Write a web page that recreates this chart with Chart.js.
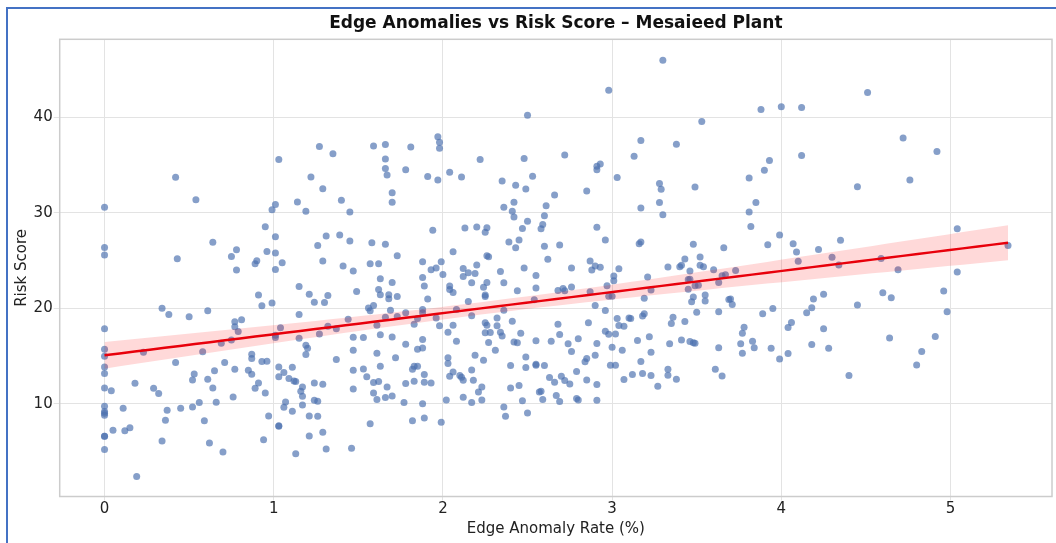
<!DOCTYPE html>
<html>
<head>
<meta charset="utf-8">
<script src="https://cdn.jsdelivr.net/npm/chart.js@4.4.1/dist/chart.umd.min.js"></script>
<style>
  html, body { margin: 0; padding: 0; background: #fff; }
  #wrap { width: 1056px; height: 543px; position: relative; }
</style>
</head>
<body>
<div id="wrap"><canvas id="chart"></canvas></div>
<script>
// Values, left to right
let anomalyRate = [
  0,0,0,0,0,0,0,0,0,0,
  0,0,0,0,0,0,0.42,0.54,0.43,0.34,
  0.38,0.50,0.23,0.58,0.42,0.53,0.52,0.18,0.04,0.29,
  0.32,0.11,0.37,0.45,0.52,0.56,0.36,0.59,0.05,0.12,
  0.15,0.34,0.19,
  0.61,0.61,0.62,0.64,0.65,0.64,0.66,0.70,0.71,0.69,
  0.75,0.78,0.78,0.77,0.77,0.81,0.79,0.75,0.77,0.76,
  0.90,0.89,0.95,0.96,0.91,0.93,0.87,0.87,0.85,0.87,
  0.91,0.89,0.95,0.93,0.96,0.97,0.94,1.03,0.99,1.01,
  1.01,1.01,1.01,1.05,0.99,1.04,1.01,1.01,1.03,1.06,
  1.03,1.11,1.09,1.12,1.13,1.17,1.16,1.17,1.07,1.06,
  1.11,1.17,1.03,1.03,1.13,1.27,1.35,1.22,1.29,1.14,
  1.19,1.40,1.45,1.26,1.31,1.39,1.45,1.29,1.41,1.47,
  1.15,1.21,1.24,1.30,1.32,1.15,1.27,1.32,1.37,1.44,
  1.15,1.19,1.20,1.19,1.37,1.47,1.47,1.47,1.47,1.24,
  1.29,1.24,1.26,1.21,1.26,1.21,1.29,1.31,1.46,
  1.49,1.53,1.59,1.66,1.81,1.97,1.98,1.98,1.66,1.66,
  1.67,1.78,1.91,1.97,2.04,2.11,2.22,2.35,2.36,1.70,
  1.70,1.94,1.58,1.66,1.73,1.57,1.62,1.88,1.99,1.93,
  1.96,2.00,2.06,2.13,2.20,2.25,2.26,2.26,2.27,2.20,
  2.12,2.15,2.19,2.12,2.34,2.36,1.63,1.70,1.62,1.63,
  1.68,1.68,1.73,1.89,1.88,2.04,2.04,2.06,1.91,2.15,
  2.24,2.25,2.25,2.26,2.17,1.56,1.57,1.59,1.69,1.73,
  1.78,1.66,1.61,1.83,1.85,1.88,1.88,1.96,1.98,2.08,
  2.17,2.06,2.03,2.08,2.25,2.26,2.25,2.28,2.27,2.32,
  2.32,2.34,2.35,2.36,2.31,2.24,2.19,2.17,1.63,1.70,
  1.78,1.88,1.88,1.85,1.61,1.72,1.63,1.53,1.55,1.59,
  1.62,1.67,1.59,1.61,1.66,1.70,1.77,1.82,1.83,1.85,
  1.78,1.83,1.89,1.89,1.93,1.88,2.03,2.03,2.06,2.04,
  2.10,2.11,2.12,2.18,2.23,2.21,2.12,2.17,2.23,2.02,
  1.57,1.82,1.89,1.99,2.36,
  2.98,2.50,2.48,2.72,2.91,2.91,2.93,2.53,3.03,3.13,
  3.17,2.43,2.49,2.66,2.85,2.42,2.41,2.42,2.61,2.60,
  2.50,2.47,2.59,2.58,3.17,2.91,2.45,2.39,2.43,2.60,
  2.69,2.96,3.16,3.17,2.62,2.48,2.76,2.87,2.88,2.90,
  2.93,3.04,2.55,2.55,2.44,2.68,2.71,2.72,2.76,2.87,
  2.97,3.01,3.01,2.98,3.00,3.21,3.23,3.19,2.54,2.90,
  2.96,3.03,3.04,3.07,3.10,3.11,3.18,3.19,2.41,2.68,
  2.86,2.96,2.98,3.02,2.46,2.69,2.42,2.44,2.55,2.64,
  2.74,2.80,2.91,3.15,3.22,2.76,3.00,3.06,3.23,2.49,
  2.90,2.85,2.84,2.40,2.49,2.55,2.55,2.60,2.99,3.02,
  3.17,2.79,2.63,2.66,2.70,2.72,2.75,2.85,2.91,3.07,
  3.12,3.18,3.23,2.40,2.45,2.47,2.57,2.58,2.59,2.67,
  2.69,2.79,2.80,2.91,2.37,2.50,
  3.30,3.53,3.38,3.88,4.00,4.12,4.12,3.93,3.90,3.81,
  3.28,3.29,3.49,3.28,3.30,3.85,3.81,3.82,3.99,3.48,
  3.66,3.92,4.07,4.09,4.10,3.33,3.40,3.41,3.43,3.52,
  3.52,3.54,3.46,3.60,3.73,3.67,3.65,3.45,3.46,3.45,
  3.49,3.51,3.63,3.48,3.47,3.55,3.55,3.69,3.70,3.71,
  3.50,3.63,3.89,3.95,3.36,3.35,3.43,3.78,3.77,4.06,
  4.04,3.41,3.46,3.49,3.48,3.34,3.63,3.76,3.83,3.84,
  3.77,3.94,4.04,3.99,3.33,3.33,3.38,3.61,3.65,3.27,
  4.51,4.72,4.92,4.45,4.76,4.35,4.22,4.30,4.34,4.59,
  4.69,4.15,4.18,4.19,4.25,4.45,4.60,4.65,4.96,4.98,
  4.25,4.18,4.28,4.64,4.91,4.83,4.80,4.40,5.04,5.04,
  5.34
];
let riskScore = [
  30.57,26.37,25.57,17.85,15.72,14.98,13.86,13.17,11.66,9.74,
  9.2,9.0,8.8,6.6,6.6,5.23,33.71,31.37,25.19,20.01,
  19.35,19.1,15.4,15.44,14.32,13.13,12.5,12.15,11.38,11.63,
  11.07,9.53,9.32,9.53,9.67,10.13,8.27,8.24,7.23,7.19,
  7.5,6.1,2.4,
  19.73,12.57,5.9,26.9,13.45,11.66,10.16,4.95,14.32,16.35,
  25.43,26.13,24.0,18.58,18.06,18.79,17.57,16.69,13.62,10.72,
  24.98,24.66,28.54,25.95,21.38,20.26,15.19,14.74,13.52,13.1,
  12.19,11.63,11.14,14.42,14.46,8.73,6.25,35.56,30.32,30.85,
  27.49,25.78,24.07,24.77,20.54,17.95,17.18,16.94,13.86,13.27,
  12.82,13.83,12.64,12.4,12.33,11.77,11.31,10.79,10.2,9.64,
  9.22,9.88,7.71,7.65,4.78,36.93,36.16,33.75,32.52,31.13,
  30.15,31.3,30.08,26.58,27.56,27.67,27.04,24.94,24.42,23.89,
  22.28,21.48,20.64,20.61,21.34,19.35,17.32,18.13,17.85,18.86,
  16.87,16.14,15.82,15.16,14.63,16.97,15.6,13.52,11.56,12.19,
  12.05,10.37,10.27,8.73,8.69,6.63,7.02,5.27,5.34,
  21.76,16.94,36.99,37.13,36.89,37.94,37.38,36.75,35.63,34.62,
  33.96,34.51,33.78,33.43,34.23,33.75,35.56,33.33,30.57,32.1,
  31.09,28.16,26.86,26.69,25.5,24.66,24.66,24.87,24.87,24.03,
  24.21,23.54,25.92,28.4,28.5,27.95,28.43,25.5,25.39,24.52,
  24.17,23.72,23.65,23.33,23.86,22.67,23.09,22.70,21.97,21.41,
  21.41,21.0,21.24,22.32,23.23,22.32,21.97,21.65,20.96,20.71,
  22.21,21.4,21.24,22.70,22.67,20.04,19.73,20.29,19.8,19.14,
  19.52,19.07,18.23,18.34,18.93,19.87,19.52,18.99,18.16,19.87,
  19.21,18.23,17.50,16.55,18.48,18.23,17.43,17.47,16.41,18.99,
  18.16,17.5,17.1,19.8,15.6,14.56,15.09,13.55,17.22,17.0,
  16.24,16.73,15.85,15.72,15.3,14.81,13.93,13.65,12.82,12.22,
  12.33,11.77,11.14,10.44,10.65,10.82,10.13,13.62,13.93,13.93,
  12.12,12.36,13.06,12.26,12.19,10.02,14.81,14.21,13.34,12.89,
  12.96,12.78,12.47,12.47,11.77,11.24,10.68,10.13,10.41,10.41,
  7.92,8.24,8.52,8.06,9.67,
  42.83,40.21,35.67,36.05,34.51,34.86,35.11,33.82,33.68,35.91,
  37.55,32.87,32.49,31.86,32.28,31.09,30.15,29.55,30.74,29.69,
  29.1,28.36,28.78,28.33,30.5,28.47,27.14,26.93,26.34,26.48,
  26.62,27.14,26.76,26.93,25.12,24.21,24.21,24.94,24.0,24.42,
  24.28,24.14,23.44,22.11,21.83,21.87,22.07,21.83,22.22,21.73,
  22.35,23.37,22.88,21.27,21.27,23.26,21.9,21.06,20.89,20.29,
  19.77,18.93,18.2,18.13,18.97,18.93,19.18,19.42,18.65,18.34,
  18.48,17.6,17.29,17.32,17.39,17.25,16.48,16.38,16.59,16.55,
  16.28,16.8,16.31,16.62,17.01,15.47,15.93,15.61,15.4,14.91,
  15.09,14.74,14.39,14.0,13.79,14.14,14.04,14.0,14.04,14.04,
  14.42,13.38,12.75,12.26,12.89,12.43,12.08,12.5,12.01,12.54,
  13.06,13.17,12.96,11.66,11.91,10.33,11.24,11.31,10.44,10.86,
  10.23,10.55,10.41,10.37,8.69,9.04,
  45.97,39.55,37.17,40.8,41.08,41.01,35.98,35.46,34.44,33.64,
  33.05,32.45,32.70,31.06,29.80,31.06,30.08,28.57,27.67,26.69,
  26.34,26.65,26.76,25.88,24.91,24.31,24.35,24.49,25.15,25.36,
  24.49,24.35,23.89,24.03,23.96,23.51,23.4,23.02,23.05,22.0,
  22.35,22.42,22.7,21.17,20.68,21.38,20.75,20.92,20.96,20.4,
  19.59,19.63,19.42,19.98,19.07,18.41,18.62,18.02,17.39,18.51,
  17.99,16.69,16.52,16.35,16.38,16.28,15.86,16.28,16.55,15.86,
  15.3,15.82,15.26,14.70,13.62,12.99,12.57,13.62,12.92,11.84,
  42.59,37.83,36.40,32.73,33.43,27.11,26.16,25.33,24.52,25.22,
  24.03,19.52,20.05,20.96,21.48,20.33,21.62,21.10,21.80,19.63,
  17.85,16.21,15.82,16.90,17.04,15.47,14.07,12.96,28.33,23.79,
  26.58
];
let xTicks = [0, 1, 2, 3, 4, 5];
let yTicks = [10, 20, 30, 40];
let chartTitle = "Edge Anomalies vs Risk Score \u2013 Mesaieed Plant";
let xLabel = "Edge Anomaly Rate (%)";
let yLabel = "Risk Score";

let fontFamily = "'DejaVu Sans', sans-serif";

// Least squares fit with a 95% band
let n = Math.min(anomalyRate.length, riskScore.length);
let meanX = 0, meanY = 0;
for (let i = 0; i < n; i++) { meanX += anomalyRate[i]; meanY += riskScore[i]; }
meanX /= n; meanY /= n;
let sxx = 0, sxy = 0;
for (let i = 0; i < n; i++) {
  sxx += (anomalyRate[i] - meanX) ** 2;
  sxy += (anomalyRate[i] - meanX) * (riskScore[i] - meanY);
}
let slope = sxy / sxx;
let intercept = meanY - slope * meanX;
let sse = 0;
for (let i = 0; i < n; i++) sse += (riskScore[i] - intercept - slope * anomalyRate[i]) ** 2;
let resid = Math.sqrt(sse / (n - 2));

let minX = Math.min(...anomalyRate);
let maxX = Math.max(...anomalyRate);
let fitLine = [], bandUpper = [], bandLower = [];
for (let k = 0; k <= 60; k++) {
  let x = minX + (maxX - minX) * k / 60;
  let yhat = intercept + slope * x;
  let half = 1.96 * resid * Math.sqrt(1 / n + (x - meanX) ** 2 / sxx);
  fitLine.push({ x: x, y: yhat });
  bandUpper.push({ x: x, y: yhat + half });
  bandLower.push({ x: x, y: yhat - half });
}

let points = [];
for (let i = 0; i < n; i++) points.push({ x: anomalyRate[i], y: riskScore[i] });

// Title over the plot area, frame and axes box
let decorPlugin = {
  id: "decor",
  beforeDatasetsDraw(chart) {
    let a = chart.chartArea;
    let c = chart.ctx;
    c.save();
    c.strokeStyle = "#cccccc";
    c.lineWidth = 1.5;
    c.strokeRect(a.left, a.top, a.right - a.left, a.bottom - a.top);
    c.restore();
  },
  afterDraw(chart) {
    let a = chart.chartArea;
    let c = chart.ctx;
    c.save();
    c.fillStyle = "#111";
    c.font = "bold 17px " + fontFamily;
    c.textAlign = "center";
    c.textBaseline = "middle";
    c.fillText(chartTitle, (a.left + a.right) / 2, 24);
    c.strokeStyle = "#4472c4";
    c.lineWidth = 2;
    c.beginPath();
    c.moveTo(7, 543);
    c.lineTo(7, 8);
    c.lineTo(1056, 8);
    c.stroke();
    c.restore();
  }
};

let ctx = document.getElementById("chart").getContext("2d");
let chart = new Chart(ctx, {
  type: "scatter",
  data: {
    datasets: [
      {
        type: "line",
        data: fitLine,
        borderColor: "#e8000b",
        borderWidth: 2.5,
        pointRadius: 0,
        fill: false,
        order: 0
      },
      {
        type: "line",
        data: bandUpper,
        borderWidth: 0,
        borderColor: "rgba(0,0,0,0)",
        backgroundColor: "rgba(255,0,0,0.15)",
        pointRadius: 0,
        fill: "+1",
        order: 1
      },
      {
        type: "line",
        data: bandLower,
        borderWidth: 0,
        borderColor: "rgba(0,0,0,0)",
        pointRadius: 0,
        fill: false,
        order: 2
      },
      {
        type: "scatter",
        data: points,
        backgroundColor: "rgba(76,114,176,0.68)",
        borderWidth: 0,
        pointRadius: 3.5,
        order: 3
      }
    ]
  },
  options: {
    responsive: true,
    maintainAspectRatio: false,
    animation: false,
    layout: { padding: { top: 39.3, right: 0.7, left: 0, bottom: 0 } },
    plugins: {
      legend: { display: false },
      tooltip: { enabled: false },
      title: { display: false }
    },
    scales: {
      x: {
        type: "linear",
        min: -0.265,
        max: 5.6,
        afterFit(scale) { scale.height = 46.5; },
        afterBuildTicks(scale) { scale.ticks = xTicks.map(v => ({ value: v })); },
        grid: { color: "#e3e3e3", lineWidth: 1, tickLength: 4, drawTicks: true },
        border: { display: false },
        ticks: { color: "#222", padding: 0, font: { family: fontFamily, size: 15 } },
        title: {
          display: true,
          text: xLabel,
          color: "#222",
          font: { family: fontFamily, size: 15 },
          padding: { top: 0, bottom: 5 }
        }
      },
      y: {
        type: "linear",
        min: 0.3,
        max: 48.15,
        afterFit(scale) { scale.width = 59.7; },
        afterBuildTicks(scale) { scale.ticks = yTicks.map(v => ({ value: v })); },
        grid: { color: "#e3e3e3", lineWidth: 1, tickLength: 6, drawTicks: true },
        border: { display: false },
        ticks: { color: "#222", padding: 1, font: { family: fontFamily, size: 15 } },
        title: {
          display: true,
          text: yLabel,
          color: "#222",
          font: { family: fontFamily, size: 15 },
          padding: { top: 13, bottom: 0 }
        }
      }
    }
  },
  plugins: [decorPlugin]
});
</script>
</body>
</html>
